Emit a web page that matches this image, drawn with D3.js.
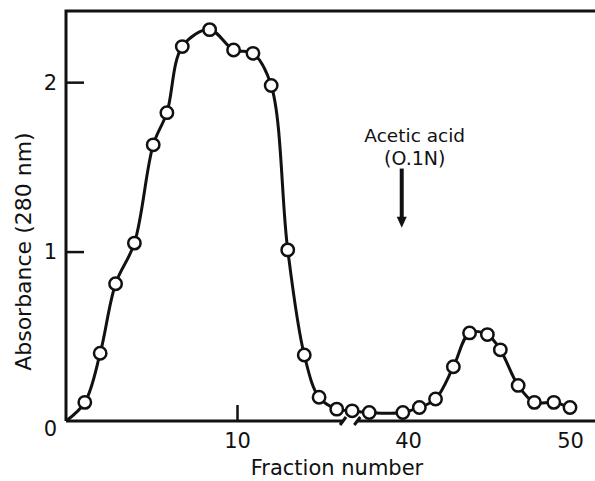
<!DOCTYPE html>
<html lang="en">
<head>
    <meta charset="UTF-8">
    <title>Absorbance profile</title>
    <script src="https://d3js.org/d3.v7.min.js"></script>
    <style>
        body { margin: 0; background: #fff; }
        svg text { font-family: "DejaVu Sans", sans-serif; fill: #111; }
    </style>
</head>
<body>
    <div id="chart"></div>

    <script>
        // values (x in axis units, the axis is broken between 10 and 40)
        const fractions = [1.1, 2.0, 2.9, 4.0, 5.1, 5.9, 6.8, 8.4, 9.8, 12.8, 16.0, 18.9, 21.8, 24.4,
            27.5, 30.2, 33.2, 39.1, 40.7, 41.7, 42.8, 43.8, 44.9, 45.7, 46.8, 47.8, 49.0, 50.0];
        const absorbance = [0.11, 0.40, 0.81, 1.05, 1.63, 1.82, 2.21, 2.31, 2.19, 2.17, 1.98, 1.01, 0.39, 0.14,
            0.07, 0.06, 0.05, 0.05, 0.08, 0.13, 0.32, 0.52, 0.51, 0.42, 0.21, 0.11, 0.11, 0.08];

        const xTicks = [10, 40, 50];
        const yTicks = [0, 1, 2];
        const xBreak = [28.6, 31.1];          // gap in the x axis line
        const arrowAt = {x: 38.9, y1: 1.49, y2: 1.14};
        const arrowLabels = ['Acetic acid', '(O.1N)'];

        const margin = {top: 11, right: 0, bottom: 60, left: 66},
            width = 595 - margin.left - margin.right,
            height = 481 - margin.top - margin.bottom;

        const svg = d3.select('#chart')
            .append('svg')
                .attr('width', width + margin.left + margin.right)
                .attr('height', height + margin.top + margin.bottom)
            .append('g')
                .attr('transform', `translate(${margin.left}, ${margin.top})`);

        // piecewise x scale because of the axis break
        const x = d3.scaleLinear()
            .domain([0, 10, 40, 50])
            .range([0, 171, 342, 504]);

        const y = d3.scaleLinear()
            .domain([0, 2.42])
            .range([height, 0]);

        // frame: left and top lines
        svg.append('path')
            .attr('d', `M0,${height}V0H${width}`)
            .attr('fill', 'none')
            .attr('stroke', '#111')
            .attr('stroke-width', 3);

        // broken bottom axis line
        const xb0 = x(xBreak[0]), xb1 = x(xBreak[1]);
        svg.append('path')
            .attr('d', `M0,${height}H${xb0} M${xb0 - 3},${height + 4}L${xb0 + 3},${height - 4}` +
                ` M${xb1},${height}H${width} M${xb1 - 3},${height + 4}L${xb1 + 3},${height - 4}`)
            .attr('fill', 'none')
            .attr('stroke', '#111')
            .attr('stroke-width', 3);

        // x axis ticks + labels
        const xAxis = svg.append('g')
            .attr('transform', `translate(0, ${height})`)
            .call(d3.axisBottom(x).tickValues(xTicks).tickFormat(d3.format('d'))
                .tickSizeInner(-16).tickSizeOuter(0).tickPadding(12));
        xAxis.select('.domain').remove();
        xAxis.selectAll('.tick line')
            .attr('stroke', '#111')
            .attr('stroke-width', 2.5)
            .attr('display', d => d === 10 ? null : 'none');
        xAxis.selectAll('.tick text')
            .style('font-size', '21px');

        // y axis ticks + labels
        const yAxis = svg.append('g')
            .call(d3.axisLeft(y).tickValues(yTicks).tickFormat(d3.format('d'))
                .tickSizeInner(-18).tickSizeOuter(0).tickPadding(9));
        yAxis.select('.domain').remove();
        yAxis.selectAll('.tick line')
            .attr('stroke', '#111')
            .attr('stroke-width', 2.5)
            .attr('display', d => d === 0 ? 'none' : null);
        yAxis.selectAll('.tick text')
            .style('font-size', '21px')
            .attr('x', d => d === 0 ? -9 : -9)
            .attr('dy', d => d === 0 ? '0.7em' : '0.35em');

        // axis titles
        svg.append('text')
            .attr('x', x(10) + 100)
            .attr('y', height + 54)
            .attr('text-anchor', 'middle')
            .style('font-size', '21px')
            .text('Fraction number');

        svg.append('text')
            .attr('transform', `translate(${-margin.left + 31}, ${y(1)}) rotate(-90)`)
            .attr('text-anchor', 'middle')
            .style('font-size', '22px')
            .text('Absorbance (280 nm)');

        // curve, starting at the origin
        const pts = fractions.map((f, i) => [f, absorbance[i]]);
        svg.append('path')
            .datum([[0, 0], ...pts])
            .attr('fill', 'none')
            .attr('stroke', '#111')
            .attr('stroke-width', 3)
            .attr('d', d3.line()
                .x(d => x(d[0]))
                .y(d => y(d[1]))
                .curve(d3.curveCatmullRom.alpha(0.5))
            );

        // points
        svg.append('g')
            .selectAll('circle')
            .data(pts)
            .join('circle')
            .attr('cx', d => x(d[0]))
            .attr('cy', d => y(d[1]))
            .attr('r', 6.2)
            .attr('fill', '#fff')
            .attr('stroke', '#111')
            .attr('stroke-width', 2.5);

        // annotation arrow
        const ax = x(arrowAt.x);
        svg.append('line')
            .attr('x1', ax).attr('x2', ax)
            .attr('y1', y(arrowAt.y1)).attr('y2', y(arrowAt.y2) - 8)
            .attr('stroke', '#111')
            .attr('stroke-width', 4);
        svg.append('path')
            .attr('d', `M${ax - 5},${y(arrowAt.y2) - 11}L${ax + 5},${y(arrowAt.y2) - 11}L${ax},${y(arrowAt.y2)}Z`)
            .attr('fill', '#111');

        svg.selectAll('.note')
            .data(arrowLabels)
            .join('text')
            .attr('class', 'note')
            .attr('x', ax + 13)
            .attr('y', (d, i) => y(arrowAt.y1) - 27 + i * 23)
            .attr('text-anchor', 'middle')
            .style('font-size', d => d.startsWith('(') ? '19px' : '18.5px')
            .text(d => d);
    </script>
</body>
</html>
